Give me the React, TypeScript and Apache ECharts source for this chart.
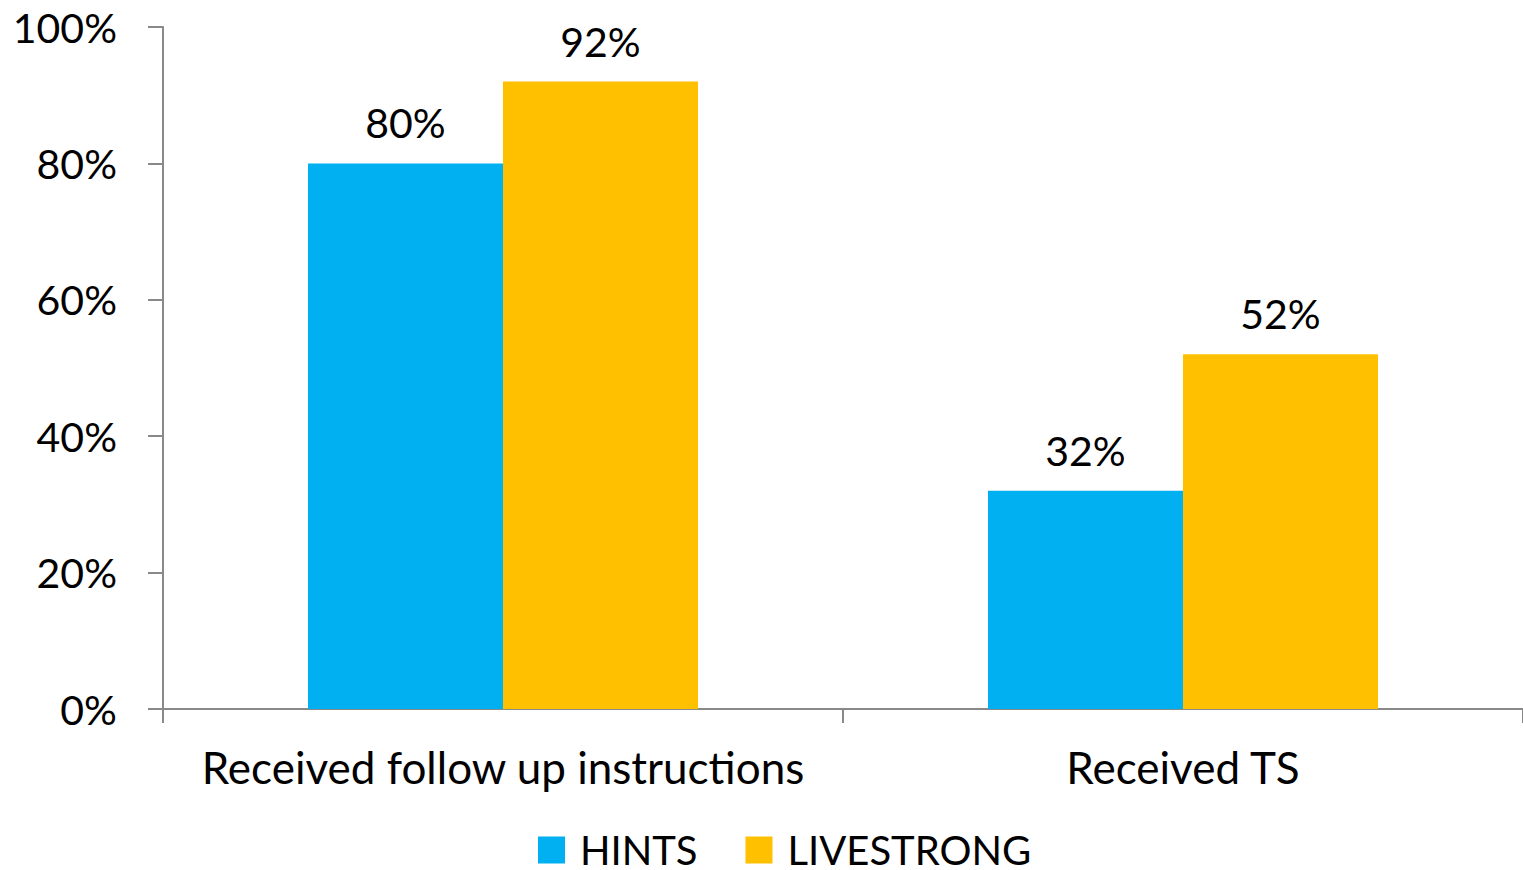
import React, { useEffect, useRef } from "react";
import * as echarts from "echarts";

const categories = ["Received follow up instructions", "Received TS"];
const hints = [80, 32];
const livestrong = [92, 52];
const yTicks = [0, 20, 40, 60, 80, 100];

const FONT = "Lato, 'Open Sans', sans-serif";

export default function App() {
  const ref = useRef<HTMLDivElement>(null);
  useEffect(() => {
    if (!ref.current) return;
    const chart = echarts.init(ref.current, undefined, { renderer: "svg" });
    const labelCfg = {
      show: true,
      position: "top" as const,
      distance: 20,
      formatter: (p: any) => p.value + "%",
      fontSize: 41,
      color: "#000",
      fontFamily: FONT,
    };
    chart.setOption({
      animation: false,
      textStyle: { fontFamily: FONT },
      grid: { left: 163, top: 27, width: 1364, height: 682, containLabel: false },
      legend: {
        left: 538,
        top: 830,
        padding: 0,
        itemWidth: 27,
        itemHeight: 27,
        itemGap: 48,
        icon: "rect",
        textStyle: { fontSize: 40, lineHeight: 34, color: "#000", fontFamily: FONT, padding: [0, 0, 0, 10] },
        data: ["HINTS", "LIVESTRONG"],
      },
      xAxis: {
        type: "category",
        data: categories,
        axisLine: { lineStyle: { color: "#898989", width: 2 } },
        axisTick: { show: true, length: 14, lineStyle: { color: "#898989", width: 2 } },
        axisLabel: { interval: 0, fontSize: 44, color: "#000", fontFamily: FONT, margin: 36 },
      },
      yAxis: {
        type: "value",
        min: 0,
        max: 100,
        interval: 20,
        axisLine: { show: true, lineStyle: { color: "#898989", width: 2 } },
        axisTick: { show: true, length: 15, lineStyle: { color: "#898989", width: 2 } },
        splitLine: { show: false },
        axisLabel: {
          fontSize: 41,
          color: "#000",
          fontFamily: FONT,
          margin: 46,
          formatter: (v: number) => (yTicks.includes(v) ? v + "%" : ""),
        },
      },
      series: [
        {
          name: "HINTS",
          type: "bar",
          data: hints,
          barWidth: 195,
          barGap: "0%",
          itemStyle: { color: "#00B0F0" },
          label: labelCfg,
        },
        {
          name: "LIVESTRONG",
          type: "bar",
          data: livestrong,
          barWidth: 195,
          barGap: "0%",
          itemStyle: { color: "#FFC000" },
          label: labelCfg,
        },
      ],
    });
    return () => chart.dispose();
  }, []);
  return (
    <div
      ref={ref}
      style={{ position: "fixed", left: 0, top: 0, width: 1523, height: 870, background: "#fff" }}
    />
  );
}
